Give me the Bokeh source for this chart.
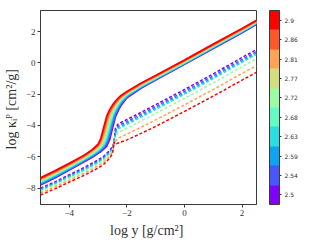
from math import pi
from bokeh.plotting import figure
from bokeh.models import ColorBar, LinearColorMapper, FixedTicker, Label, Range1d
from bokeh.embed import file_html
from bokeh.resources import INLINE

# colour scale: log B12 values (band centres) and their tick labels
LOG_B = [2.5, 2.5444, 2.5889, 2.6333, 2.6778, 2.7222, 2.7667, 2.8111, 2.8556, 2.9]
LOG_B_LABELS = ["2.5", "2.54", "2.59", "2.63", "2.68", "2.72", "2.77", "2.81", "2.86", "2.9"]
COLORS = ["#8000ff", "#4757fb", "#0ea4f0", "#2bdddd", "#63fbc3",
          "#9cfba4", "#d4dd80", "#ffa457", "#ff572c", "#ff0000"]

# solid curves (one per log B)
LOG_Y_SOLID = [-5, -4.5, -4, -3.5, -3.2, -3.0, -2.9, -2.8, -2.7, -2.6, -2.5,
               -2.4, -2.3, -2.2, -2.0, -1.5, -1.0, 0, 1, 2, 2.5]
K_SOLID_250 = [-7.80, -7.35, -6.85, -6.33, -6.03, -5.78, -5.66, -5.49, -5.31, -4.91, -4.17, -3.45, -3.03, -2.70, -2.23, -1.60, -1.09, -0.09, 0.93, 1.93, 2.47]
K_SOLID_254 = [-7.75, -7.30, -6.80, -6.28, -5.98, -5.73, -5.59, -5.42, -5.17, -4.67, -3.93, -3.31, -2.92, -2.62, -2.17, -1.56, -1.06, -0.06, 0.96, 1.96, 2.50]
K_SOLID_259 = [-7.70, -7.25, -6.76, -6.24, -5.92, -5.67, -5.52, -5.34, -5.01, -4.41, -3.69, -3.17, -2.82, -2.53, -2.13, -1.53, -1.02, -0.03, 0.99, 1.99, 2.53]
K_SOLID_263 = [-7.65, -7.20, -6.71, -6.19, -5.87, -5.62, -5.45, -5.27, -4.87, -4.17, -3.45, -3.03, -2.72, -2.45, -2.07, -1.49, -0.99, 0.00, 1.02, 2.02, 2.56]
K_SOLID_268 = [-7.60, -7.15, -6.66, -6.15, -5.82, -5.55, -5.38, -5.13, -4.63, -3.93, -3.31, -2.93, -2.64, -2.38, -2.03, -1.46, -0.96, 0.03, 1.05, 2.05, 2.59]
K_SOLID_272 = [-7.55, -7.10, -6.61, -6.10, -5.76, -5.49, -5.31, -4.98, -4.38, -3.68, -3.16, -2.82, -2.54, -2.32, -1.98, -1.42, -0.93, 0.06, 1.08, 2.08, 2.61]
K_SOLID_277 = [-7.50, -7.05, -6.56, -6.06, -5.71, -5.42, -5.24, -4.84, -4.14, -3.44, -3.02, -2.72, -2.46, -2.25, -1.94, -1.39, -0.90, 0.09, 1.11, 2.11, 2.64]
K_SOLID_281 = [-7.45, -7.00, -6.52, -6.01, -5.65, -5.34, -5.09, -4.59, -3.89, -3.29, -2.92, -2.63, -2.39, -2.19, -1.91, -1.35, -0.86, 0.12, 1.14, 2.14, 2.67]
K_SOLID_286 = [-7.40, -6.95, -6.47, -5.97, -5.56, -5.27, -4.94, -4.34, -3.64, -3.14, -2.81, -2.54, -2.32, -2.14, -1.87, -1.32, -0.83, 0.15, 1.17, 2.17, 2.70]
K_SOLID_290 = [-7.35, -6.90, -6.42, -5.92, -5.55, -5.20, -4.80, -4.10, -3.40, -3.00, -2.70, -2.45, -2.25, -2.08, -1.83, -1.28, -0.80, 0.18, 1.20, 2.20, 2.72]

# dashed curves
LOG_Y_DASH = [-5, -4.5, -4, -3.5, -3, -2.8, -2.6, -2.5, -2.45, -2.4, -2.3, -2.2,
              -2, -1.5, -1, 0, 1, 2, 2.5]
K_DASH_250 = [-8.00, -7.60, -7.15, -6.70, -6.20, -5.95, -5.60, -5.35, -5.10, -4.20, -3.90, -3.80, -3.62, -3.15, -2.67, -1.70, -0.70, 0.35, 0.85]
K_DASH_254 = [-8.05, -7.65, -7.20, -6.76, -6.27, -6.02, -5.68, -5.42, -5.18, -4.35, -4.02, -3.92, -3.74, -3.27, -2.79, -1.82, -0.82, 0.22, 0.73]
K_DASH_259 = [-8.10, -7.70, -7.26, -6.82, -6.33, -6.08, -5.74, -5.48, -5.25, -4.45, -4.12, -4.02, -3.84, -3.37, -2.89, -1.92, -0.92, 0.12, 0.63]
K_DASH_263 = [-8.14, -7.74, -7.30, -6.87, -6.38, -6.13, -5.80, -5.53, -5.30, -4.55, -4.22, -4.12, -3.94, -3.46, -2.98, -2.00, -1.00, 0.04, 0.55]
K_DASH_272 = [-8.22, -7.82, -7.38, -6.95, -6.46, -6.22, -5.88, -5.60, -5.35, -4.75, -4.45, -4.35, -4.17, -3.70, -3.22, -2.27, -1.28, -0.24, 0.27]
K_DASH_281 = [-8.33, -7.93, -7.50, -7.07, -6.58, -6.33, -6.00, -5.72, -5.40, -5.00, -4.80, -4.72, -4.55, -4.10, -3.64, -2.68, -1.70, -0.67, -0.17]
K_DASH_290 = [-8.45, -8.05, -7.62, -7.20, -6.72, -6.47, -6.10, -5.80, -5.05, -5.20, -5.12, -5.06, -4.92, -4.50, -4.06, -3.10, -2.12, -1.10, -0.60]

X_TICKS = [-4, -2, 0, 2]
Y_TICKS = [-8, -6, -4, -2, 0, 2]

SOLID = [K_SOLID_250, K_SOLID_254, K_SOLID_259, K_SOLID_263, K_SOLID_268,
         K_SOLID_272, K_SOLID_277, K_SOLID_281, K_SOLID_286, K_SOLID_290]
DASHED = [(0, K_DASH_250), (1, K_DASH_254), (2, K_DASH_259), (3, K_DASH_263),
          (5, K_DASH_272), (7, K_DASH_281), (9, K_DASH_290)]

SERIF = "Liberation Serif"
AX = "#3a3a3a"

p = figure(frame_width=216, frame_height=194,
           x_range=Range1d(-5, 2.5), y_range=Range1d(-9.05, 3.35),
           output_backend="svg", toolbar_location=None,
           min_border_left=39, min_border_top=10, min_border_bottom=38,
           min_border_right=56)
p.background_fill_color = "white"
p.border_fill_color = "white"
p.outline_line_color = AX
p.outline_line_width = 1
p.xgrid.visible = False
p.ygrid.visible = False

for idx, ys in DASHED:
    p.line(LOG_Y_DASH, ys, line_color=COLORS[idx], line_width=1.5, line_dash="3 2")
for idx, ys in enumerate(SOLID):
    p.line(LOG_Y_SOLID, ys, line_color=COLORS[idx], line_width=1.8)

for ax, ticks in ((p.xaxis, X_TICKS), (p.yaxis, Y_TICKS)):
    ax.ticker = FixedTicker(ticks=ticks)
    ax.major_label_overrides = {t: (("\u2212" + str(abs(t))) if t < 0 else str(t)) for t in ticks}
    ax.minor_tick_line_color = None
    ax.major_tick_in = 0
    ax.major_tick_out = 3
    ax.major_tick_line_color = AX
    ax.axis_line_color = AX
    ax.major_label_text_font = SERIF
    ax.major_label_text_font_size = "9px"
    ax.major_label_text_color = "#333333"
    ax.major_label_standoff = 2
    ax.axis_label_text_font = SERIF
    ax.axis_label_text_font_size = "14px"
    ax.axis_label_text_font_style = "normal"
    ax.axis_label_text_color = "#333333"
    ax.axis_label_standoff = 4

p.xaxis.axis_label = "log  y [g/cm\u00b2]"
p.yaxis.axis_label = "log  \u03ba\u1d62\u1d3e [cm\u00b2/g]"

mapper = LinearColorMapper(palette=COLORS, low=2.4778, high=2.9222)
cb = ColorBar(color_mapper=mapper, ticker=FixedTicker(ticks=LOG_B),
              major_label_overrides=dict(zip(LOG_B, LOG_B_LABELS)),
              width=10, height=194, padding=0, margin=0, location=(13, 0),
              major_label_text_font="DejaVu Sans", major_label_text_font_size="6px",
              major_label_text_color="#333333",
              major_tick_out=2, major_tick_in=0, major_tick_line_color=AX,
              bar_line_color=AX, label_standoff=3,
              background_fill_alpha=0, minor_tick_line_color=None)
p.add_layout(cb, "right")

p.add_layout(Label(x=265, y=97, x_units="screen", y_units="screen",
                   text="log  B\u2081\u2082 [G]", angle=pi / 2,
                   text_align="center", text_baseline="middle",
                   text_font=SERIF, text_font_size="13px", text_color="#333333"))

open("out.html", "w").write(file_html(p, INLINE))
